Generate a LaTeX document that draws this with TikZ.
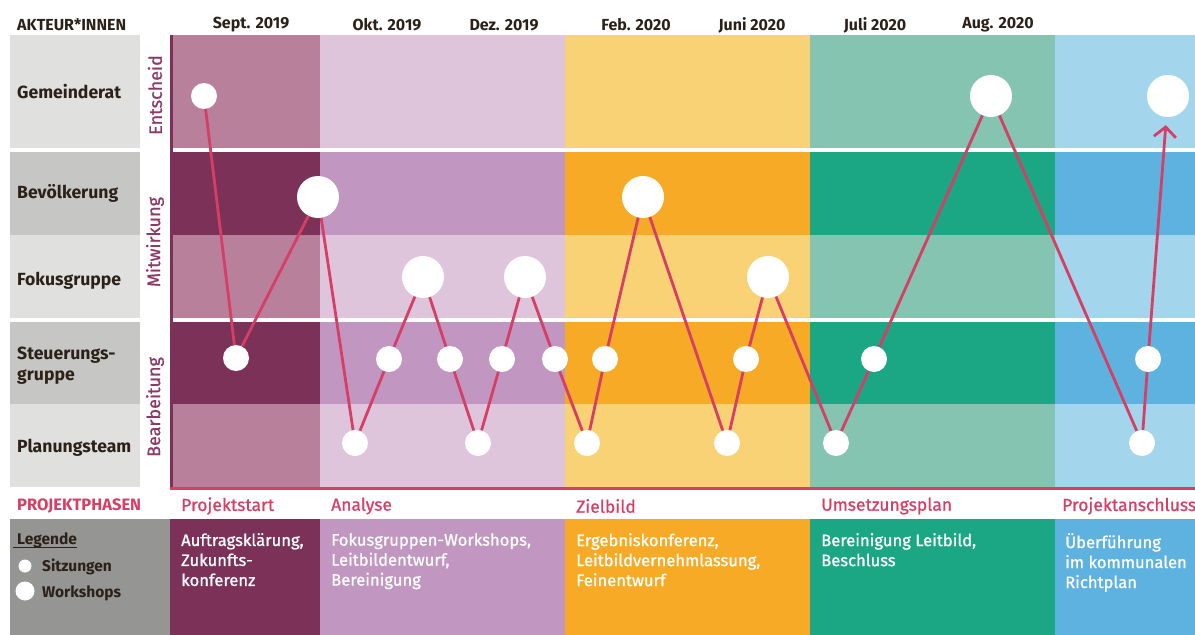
\documentclass[tikz,border=0pt]{standalone}
\usepackage{fontspec}
\setmainfont{Fira Sans}
\newfontfamily\medfont{Fira Sans}[FakeBold=0.9]
\usetikzlibrary{arrows.meta}
\definecolor{psL}{HTML}{B9809C}
\definecolor{psD}{HTML}{7C3159}
\definecolor{anL}{HTML}{DFC5DC}
\definecolor{anD}{HTML}{C197C2}
\definecolor{zbL}{HTML}{F8D274}
\definecolor{zbD}{HTML}{F7AA25}
\definecolor{upL}{HTML}{85C4B0}
\definecolor{upD}{HTML}{1BA784}
\definecolor{paL}{HTML}{A3D6ED}
\definecolor{paD}{HTML}{5DB2E0}
\definecolor{grL}{HTML}{E0E0DF}
\definecolor{grD}{HTML}{C6C6C4}
\definecolor{legG}{HTML}{959594}
\definecolor{txtc}{HTML}{2B2118}
\definecolor{pinkc}{HTML}{D53F65}
\definecolor{vlab}{HTML}{8B3A68}
\tikzset{
  hdr/.style={font=\bfseries\fontsize{16}{18}\selectfont, text=txtc, inner sep=0pt},
  rowlab/.style={font=\bfseries\fontsize{17.6}{21}\selectfont, text=txtc, anchor=west, align=left, inner sep=0pt},
  vlabel/.style={font=\medfont\fontsize{18}{20}\selectfont, text=vlab, rotate=90, inner sep=0pt},
  phase/.style={font=\medfont\fontsize{17.5}{20}\selectfont, text=pinkc, anchor=west, inner sep=0pt},
  desc/.style={font=\medfont\fontsize{16.6}{20}\selectfont, text=white, anchor=north west, align=left, inner sep=0pt},
  legtxt/.style={font=\bfseries\fontsize{15.5}{18}\selectfont, text=txtc, anchor=west, inner sep=0pt},
  sit/.style={circle, fill=white, minimum size=26pt, inner sep=0pt},
  ws/.style={circle, fill=white, minimum size=42pt, inner sep=0pt},
  con/.style={draw=pinkc, line width=2.8pt}
}
\begin{document}
\begin{tikzpicture}[x=1pt, y=-1pt]
\useasboundingbox (0,0) rectangle (1195,635);
% label column
\fill[grL] (10,35) rectangle (140,148);
\fill[grD] (10,152) rectangle (140,235);
\fill[grL] (10,235) rectangle (140,318);
\fill[grD] (10,322) rectangle (140,404);
\fill[grL] (10,404) rectangle (140,487);
% phase columns
\foreach \xa/\xb/\cl/\cd in {173/320/psL/psD, 320/565/anL/anD, 565/810/zbL/zbD, 810/1055/upL/upD, 1055/1195/paL/paD}{
  \fill[\cl] (\xa,35) rectangle (\xb,148);
  \fill[\cd] (\xa,152) rectangle (\xb,235);
  \fill[\cl] (\xa,235) rectangle (\xb,318);
  \fill[\cd] (\xa,322) rectangle (\xb,404);
  \fill[\cl] (\xa,404) rectangle (\xb,487);
}
\fill[psD] (170,35) rectangle (173,487);
\fill[pinkc] (170,487) rectangle (1195,490);
% bottom boxes
\fill[legG] (10,519) rectangle (170,635);
\fill[psD] (170,519) rectangle (320,635);
\fill[anD] (320,519) rectangle (565,635);
\fill[zbD] (565,519) rectangle (810,635);
\fill[upD] (810,519) rectangle (1055,635);
\fill[paD] (1055,519) rectangle (1195,635);
% header
\node[hdr, anchor=west] (akt) at (17,25) {AKTEUR*INNEN};
\node[hdr] (d1) at (251,25) {Sept. 2019};
\node[hdr] (d2) at (387,25) {Okt. 2019};
\node[hdr] (d3) at (504,25) {Dez. 2019};
\node[hdr] (d4) at (636,25) {Feb. 2020};
\node[hdr] (d5) at (752,25) {Juni 2020};
\node[hdr] (d6) at (875,25) {Juli 2020};
\node[hdr] (d7) at (998,25) {Aug. 2020};
% row labels
\node[rowlab] (rg) at (17,92) {Gemeinderat};
\node[rowlab] (rb) at (17,193) {Bevölkerung};
\node[rowlab] (rf) at (17,281) {Fokusgruppe};
\node[rowlab] (rs) at (17,366) {Steuerungs-\\gruppe};
\node[rowlab] (rp) at (17,448) {Planungsteam};
% vertical labels
\node[vlabel] (ve) at (155,95) {Entscheid};
\node[vlabel] (vm) at (155,242) {Mitwirkung};
\node[vlabel] (vb) at (155,407) {Bearbeitung};
% meeting nodes
\node[sit] (g1) at (204,96) {};
\node[sit] (s1) at (236,358) {};
\node[ws]  (b1) at (318,197) {};
\node[sit] (p1) at (355,443) {};
\node[sit] (s2) at (389,359) {};
\node[ws]  (f1) at (423,277) {};
\node[sit] (s3) at (450,359) {};
\node[sit] (p2) at (478,443) {};
\node[sit] (s4) at (502,359) {};
\node[ws]  (f2) at (525,277) {};
\node[sit] (s5) at (555,359) {};
\node[sit] (p3) at (587,443) {};
\node[sit] (s6) at (605,359) {};
\node[ws]  (b2) at (643,197) {};
\node[sit] (p4) at (727,443) {};
\node[sit] (s7) at (746,359) {};
\node[ws]  (f3) at (768,277) {};
\node[sit] (p5) at (836,443) {};
\node[sit] (s8) at (874,359) {};
\node[ws]  (g2) at (991,96) {};
\node[sit] (p6) at (1142,443) {};
\node[sit] (s9) at (1148,359) {};
\node[ws]  (g3) at (1168,96) {};
\draw[con] (g1) -- (s1) -- (b1) -- (p1) -- (s2) -- (f1) -- (s3) -- (p2) -- (s4) -- (f2) -- (s5) -- (p3) -- (s6) -- (b2) -- (p4) -- (s7) -- (f3) -- (p5) -- (s8) -- (g2) -- (p6) -- (s9);
\draw[con, -{Straight Barb[length=10pt, width=22pt]}, shorten >=8pt] (s9) -- (g3);
% phases
\node[legtxt, font=\bfseries\fontsize{16.5}{18}\selectfont, text=pinkc] (pp) at (17,506) {PROJEKTPHASEN};
\node[phase] (t1) at (181,506) {Projektstart};
\node[phase] (t2) at (331,506) {Analyse};
\node[phase] (t3) at (576,506) {Zielbild};
\node[phase] (t4) at (821,506) {Umsetzungsplan};
\node[phase] (t5) at (1062,506) {Projektanschluss};
\node[desc] (e1) at (181,533) {Auftragsklärung,\\Zukunfts-\\konferenz};
\node[desc] (e2) at (331,533) {Fokusgruppen-Workshops,\\Leitbildentwurf,\\Bereinigung};
\node[desc] (e3) at (576,533) {Ergebniskonferenz,\\Leitbildvernehmlassung,\\Feinentwurf};
\node[desc] (e4) at (821,533) {Bereinigung Leitbild,\\Beschluss};
\node[desc] (e5) at (1065,533) {Überführung\\im kommunalen\\Richtplan};
% legend
\node[legtxt] (leg) at (17,540) {Legende};
\draw[txtc, line width=0.9pt] ([xshift=-4pt, yshift=-3pt]leg.base west) -- ([yshift=-3pt]leg.base east);
\node[circle, fill=white, minimum size=13pt, inner sep=0pt] (lsit) at (25,566) {};
\node[circle, fill=white, minimum size=19pt, inner sep=0pt] (lws) at (25,591) {};
\node[legtxt] (ls) at (42,567) {Sitzungen};
\node[legtxt] (lw) at (42,593) {Workshops};
\end{tikzpicture}
\end{document}
